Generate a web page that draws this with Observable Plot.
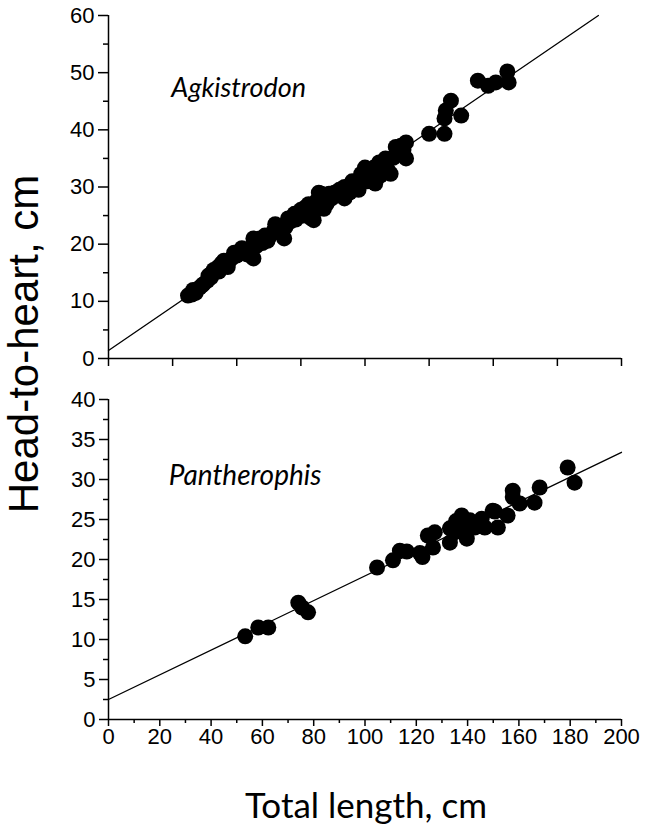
<!DOCTYPE html>
<html>
<head>
<meta charset="utf-8">
<script src="https://cdn.jsdelivr.net/npm/d3@7"></script>
<script src="https://cdn.jsdelivr.net/npm/@observablehq/plot@0.6"></script>
<style>
  html, body { margin: 0; padding: 0; background: #fff; }
  #wrap { position: relative; width: 651px; height: 836px; overflow: hidden; }
  #top, #bottom { position: absolute; left: 0; }
  #top { top: 0; }
  #bottom { top: 372px; }
  .ytitle {
    position: absolute; left: 24px; top: 344px;
    transform: translate(-50%, -50%) rotate(-90deg);
    font-family: "Liberation Sans", Arial, sans-serif; font-size: 42px;
    white-space: nowrap; line-height: 1; color: #000;
  }
  .xtitle {
    position: absolute; left: 366px; top: 787px;
    transform: translateX(-50%);
    font-family: Lato, "Open Sans", sans-serif; font-size: 35px;
    white-space: nowrap; line-height: 1; color: #000;
  }
</style>
</head>
<body>
<div id="wrap">
  <div id="top"></div>
  <div id="bottom"></div>
  <div class="ytitle">Head-to-heart, cm</div>
  <div class="xtitle">Total length, cm</div>
</div>
<script>
// ---- Data ----
const species = ["Agkistrodon", "Pantherophis"];

// Agkistrodon: total length (cm), head-to-heart (cm)
const agkLength = [31,32.5,33,34,35.5,36.5,37,38.5,39,40,41,42.5,43,44,45,46.5,47,48,49,50,51,52,53,54,55,56.5,56.5,57.5,58,59,60,61,62,63,64.5,65,66,67,68.5,69,70,71,72.5,73,74,75,76,77,78,78.5,79,80,81,81,82,83,84,85,86,87,88,90,92,92,94,95,96,97.5,98.5,99,100,101,102,103.5,104,105.5,106,107.5,108,109,110,111,112,113,114,115,116,116,125,131,131,131.5,133.5,137.5,144,148,151,155.5,156];
const agkHeart  = [11,11.2,12,11.5,12.4,12.8,13,13.6,14.5,14.2,15.5,15.9,15.2,16.6,17.1,16,17,17.5,18.5,18,18.4,19.3,18.8,18.2,19,17.5,21,19.6,20.5,21,20.2,21.5,20.6,21.5,22.4,23.5,23,22,21,23,24.5,24,25.3,24.3,25.5,26,25,26.5,27,26,24.5,24.2,26,27.5,29,28.8,26.2,27,28.8,28,29,29.5,30,28,29,31,30.5,29.5,32.3,31.5,33.4,31,32.5,33.4,30.6,34.3,32,34.1,35,32.9,32.3,35.1,37,36,37.2,36.5,37.8,35,39.3,39.3,42,43.4,45.1,42.5,48.6,47.7,48.3,50.2,48.3];

// Pantherophis
const panLength = [53.3,58.4,62.3,74,75.5,77.8,104.7,110.9,113.6,116.3,121.4,122.4,126.5,124.5,127.2,133.1,133.1,135,135.5,137.7,138.1,139.7,140.9,142.8,145.5,146.7,149.8,150.6,151.8,155.6,157.6,157.6,160.3,166.1,168.1,179,181.7];
const panHeart  = [10.4,11.5,11.5,14.6,14,13.4,19,19.9,21.1,21,20.8,20.3,21.5,23,23.4,23.9,22.1,23.4,24.8,25.5,24,22.6,24.9,24,25.1,24,26.1,26,24,25.5,28.6,27.8,27,27.1,29,31.5,29.6];

// Regression line end points (length, head-to-heart)
const agkFitLength = [0, 191];
const agkFitHeart  = [1.4, 60];
const panFitLength = [0, 200];
const panFitHeart  = [2.5, 33.4];

// Label anchor positions in data units
const labelLength = [24.5, 23.5];
const labelHeart  = [47.2, 30.4];

// Tick values
const topYTicks = [0, 10, 20, 30, 40, 50, 60];
const topYMinor = [5, 15, 25, 35, 45, 55];
const topXTicks = [0, 25, 50, 75, 100, 125, 150, 175, 200];
const botYTicks = [0, 5, 10, 15, 20, 25, 30, 35, 40];
const botYMinor = [2.5, 7.5, 12.5, 17.5, 22.5, 27.5, 32.5, 37.5];
const botXTicks = [0, 20, 40, 60, 80, 100, 120, 140, 160, 180, 200];
const botXMinor = [10, 30, 50, 70, 90, 110, 130, 150, 170, 190];

// ---- Build tables ----
const agk = agkLength.map((x, i) => ({x, y: agkHeart[i]}));
const pan = panLength.map((x, i) => ({x, y: panHeart[i]}));
const agkFit = agkFitLength.map((x, i) => ({x, y: agkFitHeart[i]}));
const panFit = panFitLength.map((x, i) => ({x, y: panFitHeart[i]}));
const labels = species.map((name, i) => ({name, x: labelLength[i], y: labelHeart[i]}));

const tickFont = "'Liberation Sans', Arial, sans-serif";
const labelFont = "Lato, 'Open Sans', sans-serif";
const common = {
  width: 651,
  marginLeft: 108,
  marginRight: 30,
  x: {domain: [0, 200]},
  style: {fontFamily: tickFont, fontSize: "22px", color: "#000", background: "transparent", overflow: "visible"}
};

const topPlot = Plot.plot({
  ...common,
  height: 372,
  marginTop: 15,
  marginBottom: 14,
  y: {domain: [0, 60]},
  marks: [
    Plot.axisY({ticks: topYTicks, tickSize: 10, tickPadding: 4, label: null, fontSize: 22, strokeWidth: 1.5}),
    Plot.axisY({ticks: topYMinor, tickSize: 5, tickFormat: () => "", label: null, strokeWidth: 1.5}),
    Plot.axisX({ticks: topXTicks, tickSize: 8, tickFormat: () => "", label: null, strokeWidth: 1.5}),
    Plot.ruleX([0], {strokeWidth: 1.5}),
    Plot.ruleY([0], {strokeWidth: 1.5}),
    Plot.line(agkFit, {x: "x", y: "y", stroke: "#000", strokeWidth: 1.3}),
    Plot.dot(agk, {x: "x", y: "y", r: 8, fill: "#000"}),
    Plot.text([labels[0]], {x: "x", y: "y", text: "name", textAnchor: "start", fontSize: 27, fontStyle: "italic", fontFamily: labelFont, fill: "#000"})
  ]
});

const bottomPlot = Plot.plot({
  ...common,
  height: 464,
  marginTop: 27,
  marginBottom: 117,
  y: {domain: [0, 40]},
  marks: [
    Plot.axisY({ticks: botYTicks, tickSize: 9, tickPadding: 4, label: null, fontSize: 22, strokeWidth: 1.5}),
    Plot.axisY({ticks: botYMinor, tickSize: 5, tickFormat: () => "", label: null, strokeWidth: 1.5}),
    Plot.axisX({ticks: botXTicks, tickSize: 7, tickPadding: 2, label: null, fontSize: 22, strokeWidth: 1.5}),
    Plot.axisX({ticks: botXMinor, tickSize: 4, tickFormat: () => "", label: null, strokeWidth: 1.5}),
    Plot.ruleX([0], {strokeWidth: 1.5}),
    Plot.ruleY([0], {strokeWidth: 1.5}),
    Plot.line(panFit, {x: "x", y: "y", stroke: "#000", strokeWidth: 1.3}),
    Plot.dot(pan, {x: "x", y: "y", r: 8, fill: "#000"}),
    Plot.text([labels[1]], {x: "x", y: "y", text: "name", textAnchor: "start", fontSize: 28, fontStyle: "italic", fontFamily: labelFont, fill: "#000"})
  ]
});

document.getElementById("top").appendChild(topPlot);
document.getElementById("bottom").appendChild(bottomPlot);
</script>
</body>
</html>
